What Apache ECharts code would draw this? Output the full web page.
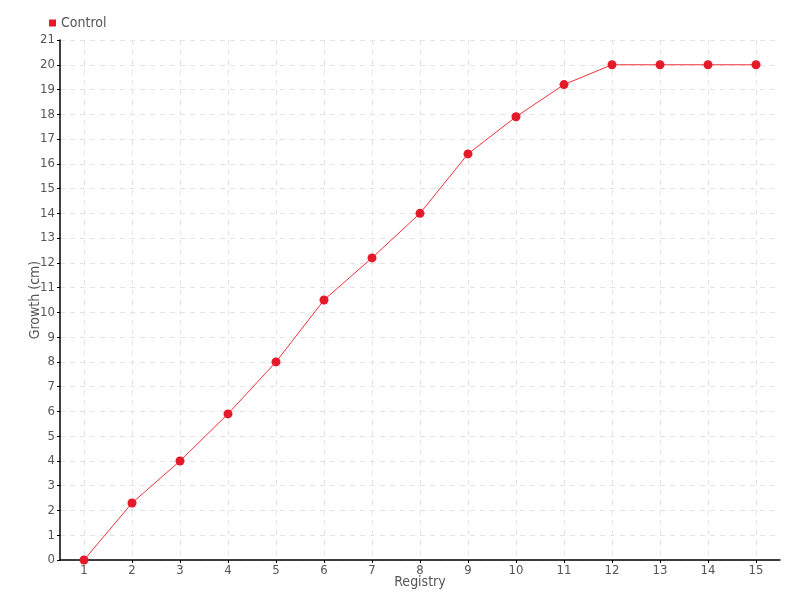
<!DOCTYPE html>
<html><head><meta charset="utf-8">
<script src="https://cdn.jsdelivr.net/npm/echarts@6/dist/echarts.min.js"></script>
<style>html,body{margin:0;padding:0;background:#fff}#c{width:800px;height:600px}</style>
</head><body><div id="c"></div>
<script>
const categories = [1,2,3,4,5,6,7,8,9,10,11,12,13,14,15];
const controlValues = [0, 2.3, 4, 5.9, 8, 10.5, 12.2, 14, 16.4, 17.9, 19.2, 20, 20, 20, 20];
const seriesName = 'Control';
const FONT = '"DejaVu Sans Condensed", "Liberation Sans Narrow", sans-serif';
const chart = echarts.init(document.getElementById('c'));
chart.setOption({
  animation: false,
  textStyle: { fontFamily: FONT, color: '#555' },
  legend: {
    left: 44, top: 11, icon: 'rect', itemWidth: 7, itemHeight: 7, itemGap: 3,
    textStyle: { fontFamily: FONT, fontSize: 14, color: '#555' },
    data: [seriesName]
  },
  grid: { left: 60, right: 20, top: 40, bottom: 40, containLabel: false, outerBoundsMode: 'none' },
  xAxis: {
    type: 'value', min: 0.5, max: 15.5,
    name: 'Registry', nameLocation: 'middle', nameGap: 15, nameMoveOverlap: false,
    nameTextStyle: { fontFamily: FONT, fontSize: 14, color: '#555' },
    axisLine: { show: true, onZero: false, lineStyle: { color: '#000', width: 1.5 } },
    axisTick: { show: true, customValues: categories, length: 3, lineStyle: { color: '#000' } },
    axisLabel: { customValues: categories, fontFamily: FONT, fontSize: 13, color: '#555', margin: 4 },
    splitLine: { show: true, lineStyle: { color: '#e3e3e3', type: [5, 5] } }
  },
  yAxis: {
    type: 'value', min: 0, max: 21, interval: 1,
    name: 'Growth (cm)', nameLocation: 'middle', nameGap: 18, nameMoveOverlap: false,
    nameTextStyle: { fontFamily: FONT, fontSize: 14, color: '#555' },
    axisLine: { show: true, lineStyle: { color: '#000', width: 1.5 } },
    axisTick: { show: true, length: 3, lineStyle: { color: '#000' } },
    axisLabel: { fontFamily: FONT, fontSize: 13, color: '#555', margin: 5 },
    splitLine: { show: true, lineStyle: { color: '#e3e3e3', type: [5, 5] } }
  },
  series: [{
    name: seriesName, type: 'line',
    data: categories.map((c, i) => [c, controlValues[i]]),
    symbol: 'circle', symbolSize: 9,
    itemStyle: { color: '#e41a2a' },
    lineStyle: { color: '#f0303a', width: 1 }
  }]
});
</script></body></html>
